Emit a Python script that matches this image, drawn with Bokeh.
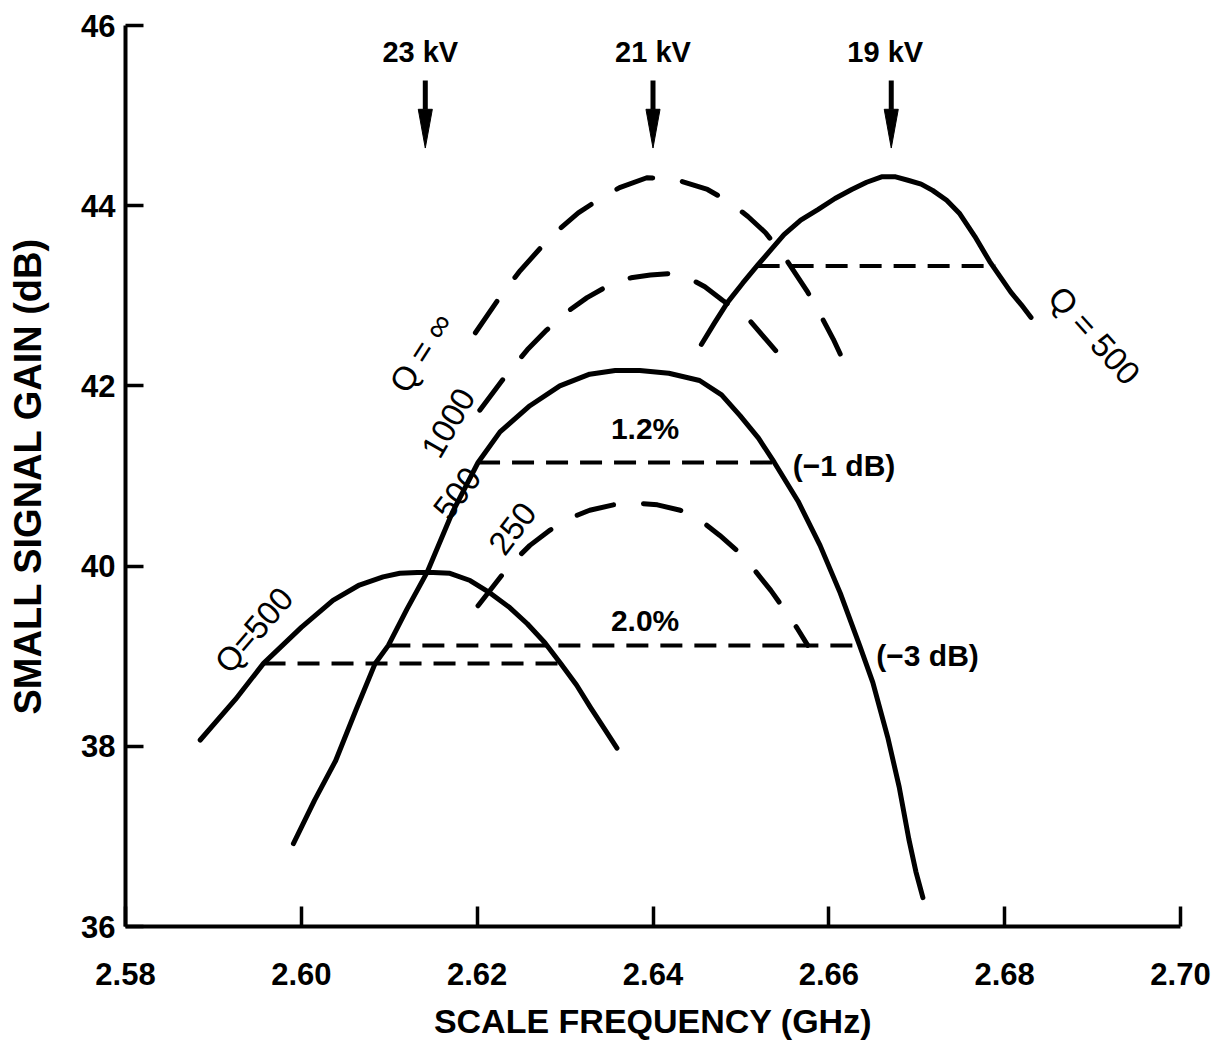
from bokeh.plotting import figure
from bokeh.models import FixedTicker, NumeralTickFormatter, ColumnDataSource
from bokeh.core.properties import value
from bokeh.embed import file_html
from bokeh.resources import INLINE

# ---------------- data ----------------
# 23 kV, Q = 500 (solid)
f_23_q500 = [2.5885, 2.5925, 2.5957, 2.6000, 2.6036, 2.6066, 2.6093, 2.6112, 2.6132, 2.6150, 2.6169,
             2.6192, 2.6215, 2.6237, 2.6257, 2.6277, 2.6295, 2.6313, 2.6329, 2.6345, 2.6359]
g_23_q500 = [38.07, 38.52, 38.92, 39.32, 39.62, 39.79, 39.88, 39.92, 39.93, 39.93, 39.92,
             39.84, 39.70, 39.54, 39.36, 39.15, 38.92, 38.68, 38.43, 38.19, 37.98]

# 21 kV, Q = 500 (solid)
f_21_q500 = [2.5991, 2.6015, 2.6039, 2.6062, 2.6084, 2.6099, 2.6120, 2.6143, 2.6172, 2.6201, 2.6226,
             2.6260, 2.6294, 2.6328, 2.6357, 2.6385, 2.6418, 2.6453, 2.6478, 2.6499, 2.6520,
             2.6538, 2.6565, 2.6590, 2.6613, 2.6635, 2.6650, 2.6667, 2.6680, 2.6691, 2.6699, 2.6707]
g_21_q500 = [36.92, 37.40, 37.84, 38.40, 38.92, 39.12, 39.52, 39.93, 40.60, 41.15, 41.49,
             41.78, 42.00, 42.13, 42.17, 42.17, 42.14, 42.06, 41.90, 41.67, 41.42,
             41.15, 40.72, 40.23, 39.70, 39.12, 38.71, 38.10, 37.55, 36.97, 36.61, 36.32]

# 21 kV, Q = 250 (dashed)
f_21_q250 = [2.6201, 2.6237, 2.6260, 2.6283, 2.6305, 2.6328, 2.6355, 2.6380, 2.6405, 2.6431,
             2.6455, 2.6476, 2.6497, 2.6516, 2.6534, 2.6550, 2.6564, 2.6576]
g_21_q250 = [39.56, 40.01, 40.23, 40.40, 40.53, 40.62, 40.68, 40.70, 40.68, 40.62,
             40.50, 40.34, 40.16, 39.95, 39.73, 39.51, 39.31, 39.12]

# 21 kV, Q = 1000 (dashed)
f_21_q1000 = [2.6203, 2.6230, 2.6257, 2.6279, 2.6302, 2.6325, 2.6354, 2.6375, 2.6397, 2.6423,
              2.6442, 2.6459, 2.6479, 2.6507, 2.6529, 2.6544, 2.6556]
g_21_q1000 = [41.73, 42.08, 42.40, 42.62, 42.82, 42.98, 43.14, 43.20, 43.23, 43.25,
              43.19, 43.10, 42.95, 42.76, 42.51, 42.34, 42.17]

# 21 kV, Q = infinity (dashed)
f_21_qinf = [2.6198, 2.6229, 2.6249, 2.6283, 2.6315, 2.6340, 2.6362, 2.6393, 2.6423, 2.6462,
             2.6487, 2.6508, 2.6528, 2.6549, 2.6576, 2.6592, 2.6605, 2.6615]
g_21_qinf = [42.59, 43.03, 43.28, 43.65, 43.92, 44.08, 44.20, 44.31, 44.30, 44.18,
             44.04, 43.88, 43.70, 43.44, 43.04, 42.76, 42.52, 42.31]

# 19 kV, Q = 500 (solid)
f_19_q500 = [2.6455, 2.6470, 2.6485, 2.6502, 2.6519, 2.6535, 2.6549, 2.6568, 2.6588, 2.6607, 2.6626,
             2.6643, 2.6660, 2.6676, 2.6691, 2.6705, 2.6718, 2.6734, 2.6749, 2.6766, 2.6783,
             2.6795, 2.6807, 2.6819, 2.6830]
g_19_q500 = [42.46, 42.70, 42.93, 43.14, 43.34, 43.52, 43.68, 43.84, 43.96, 44.08, 44.18,
             44.26, 44.32, 44.32, 44.28, 44.24, 44.17, 44.06, 43.91, 43.66, 43.38,
             43.21, 43.04, 42.90, 42.76]

# bandwidth markers (level, start freq, end freq)
bw_level = [38.92, 39.12, 41.15, 43.33]
bw_f0 = [2.5957, 2.6099, 2.6201, 2.6519]
bw_f1 = [2.6295, 2.6635, 2.6538, 2.6790]

# beam-voltage arrows
volt_labels = ["23 kV", "21 kV", "19 kV"]
volt_freq = [2.6141, 2.6400, 2.6671]

x_ticks = [2.58, 2.60, 2.62, 2.64, 2.66, 2.68, 2.70]
y_ticks = [36, 38, 40, 42, 44, 46]

# ---------------- figure ----------------
FONT = value("Liberation Sans")

p = figure(width=1218, height=1042, x_range=(2.58, 2.70), y_range=(36, 46),
           output_backend="svg", toolbar_location=None, tools="")
p.min_border_left = 125
p.min_border_right = 38
p.min_border_top = 25
p.min_border_bottom = 116
p.outline_line_color = None
p.xgrid.grid_line_color = None
p.ygrid.grid_line_color = None
p.background_fill_color = "white"
p.border_fill_color = "white"

for ax in (p.xaxis[0], p.yaxis[0]):
    ax.axis_line_width = 4
    ax.axis_line_color = "black"
    ax.major_tick_line_width = 3.5
    ax.major_tick_line_color = "black"
    ax.major_tick_out = 0
    ax.major_tick_in = 20
    ax.minor_tick_line_color = None
    ax.major_label_text_font = "Liberation Sans"
    ax.major_label_text_font_style = "bold"
    ax.major_label_text_font_size = "31px"
    ax.major_label_text_color = "black"
    ax.axis_label_text_font = "Liberation Sans"
    ax.axis_label_text_color = "black"

p.xaxis.ticker = FixedTicker(ticks=x_ticks)
p.yaxis.ticker = FixedTicker(ticks=y_ticks)
p.xaxis.formatter = NumeralTickFormatter(format="0.00")
p.yaxis.formatter = NumeralTickFormatter(format="0")
p.xaxis.major_label_standoff = 36
p.yaxis.major_label_standoff = 10
p.yaxis.major_tick_in = 18

p.xaxis.axis_label = "SCALE FREQUENCY (GHz)"
p.xaxis.axis_label_text_font_size = "34px"
p.xaxis.axis_label_text_font_style = "bold"
p.xaxis.axis_label_standoff = 14
p.yaxis.axis_label = "SMALL SIGNAL GAIN (dB)"
p.yaxis.axis_label_text_font_size = "38px"
p.yaxis.axis_label_text_font_style = "bold"
p.yaxis.axis_label_standoff = 29

# curves
solid = dict(line_color="black", line_width=5, line_cap="round", line_join="round")
dashed = dict(line_color="black", line_width=5, line_cap="round", line_join="round", line_dash="38 30")

p.line(f_23_q500, g_23_q500, **solid)
p.line(f_21_q500, g_21_q500, **solid)
p.line(f_19_q500, g_19_q500, **solid)
p.line(f_21_q250, g_21_q250, **dashed)
p.line(f_21_q1000, g_21_q1000, **dashed)
p.line(f_21_qinf, g_21_qinf, **dashed)

# bandwidth dashed levels
p.segment(x0=bw_f0, y0=bw_level, x1=bw_f1, y1=bw_level,
          line_color="black", line_width=4, line_dash="22 12")

# arrows
shaft_top, head_base, tip = 45.39, 45.07, 44.64
half_w = 0.0008
p.segment(x0=volt_freq, y0=[shaft_top] * 3, x1=volt_freq, y1=[head_base] * 3,
          line_color="black", line_width=5)
p.patches(xs=[[f - half_w, f + half_w, f] for f in volt_freq],
          ys=[[head_base, head_base, tip] for _ in volt_freq],
          fill_color="black", line_color="black", line_width=1)
p.text(x=volt_freq, y=[45.71] * 3, text=volt_labels, text_font=FONT,
       text_font_style="bold", text_font_size="29px", text_align="center",
       text_baseline="middle", text_color="black", x_offset=[-5, 0, -6])

# annotations
ann = ColumnDataSource(dict(
    x=[2.5946, 2.6136, 2.6167, 2.6177, 2.6240, 2.6902],
    y=[39.29, 42.37, 41.59, 40.81, 40.42, 42.56],
    t=["Q=500", "Q = \u221e", "1000", "500", "250", "Q = 500"],
    a=[0.86, 1.0, 1.05, 0.92, 0.92, -0.84],
))
p.text(x="x", y="y", text="t", angle="a", source=ann, text_font=FONT,
       text_font_size="33px", text_align="center", text_baseline="middle",
       text_color="black")

hl = ColumnDataSource(dict(
    x=[2.6391, 2.6391, 2.6559, 2.6654],
    y=[41.53, 39.40, 41.12, 39.01],
    t=["1.2%", "2.0%", "(\u22121 dB)", "(\u22123 dB)"],
    al=["center", "center", "left", "left"],
))
p.text(x="x", y="y", text="t", text_align="al", source=hl, text_font=FONT,
       text_font_style="bold", text_font_size="30px", text_baseline="middle",
       text_color="black")

open("out.html", "w").write(file_html(p, INLINE))
